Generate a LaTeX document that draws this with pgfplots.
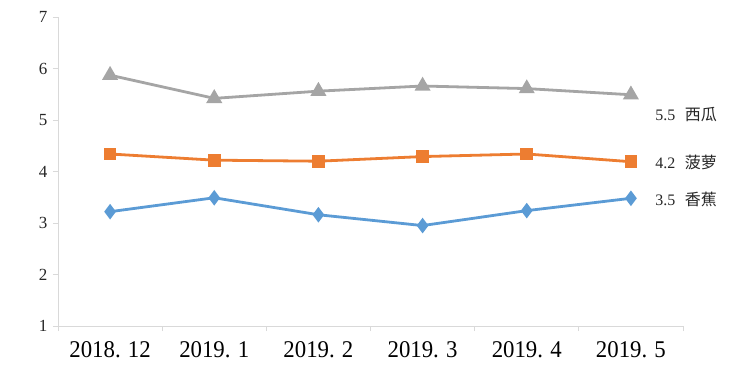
\documentclass[border=0pt]{standalone}
\usepackage{fontspec}
\setmainfont{Liberation Serif}
\newfontfamily\cjk{Noto Sans CJK SC}
\newfontfamily\tickfont[FakeStretch=0.95]{Liberation Serif}
\usepackage{pgfplots}
\pgfplotsset{compat=1.18}
\definecolor{cgray}{HTML}{A5A5A5}
\definecolor{corange}{HTML}{ED7D31}
\definecolor{cblue}{HTML}{5B9BD5}
\definecolor{caxis}{HTML}{D9D9D9}
\newcommand{\dt}{.\hspace{0.3em}}
\begin{document}
\begin{tikzpicture}[x=1pt,y=1pt]
\useasboundingbox (0,0) rectangle (750,378);
\begin{axis}[
  at={(58pt,52pt)}, anchor=south west,
  scale only axis, width=625pt, height=309pt,
  xmin=-0.5, xmax=5.5, ymin=1, ymax=7,
  axis x line*=bottom, axis y line*=left,
  axis line style={caxis, line width=0.8pt},
  xtick={0,1,2,3,4,5},
  xticklabels={2018\dt12,2019\dt1,2019\dt2,2019\dt3,2019\dt4,2019\dt5},
  minor xtick={-0.5,0.5,1.5,2.5,3.5,4.5,5.5},
  major x tick style={draw=none},
  minor x tick style={caxis, line width=0.8pt},
  ytick={1,2,3,4,5,6,7},
  ytick style={caxis, line width=0.8pt},
  tick align=outside,
  major tick length=5pt, minor tick length=5pt,
  /pgf/number format/assume math mode=true,
  yticklabel style={font=\fontsize{17}{17}\selectfont, text=black!85, xshift=-2pt},
  xticklabel style={font=\tickfont\fontsize{24}{24}\selectfont, text=black, yshift=-7pt},
  clip=false,
]
\addplot[cgray, line width=2.8pt, mark=triangle*, mark size=6.5pt, mark options={solid}]
  coordinates {(0,5.87) (1,5.42) (2,5.56) (3,5.66) (4,5.61) (5,5.49)};
\addplot[corange, line width=2.8pt, mark=square*, mark size=5pt]
  coordinates {(0,4.34) (1,4.22) (2,4.20) (3,4.29) (4,4.34) (5,4.19)};
\addplot[cblue, line width=2.8pt, mark=diamond*, mark size=5.5pt]
  coordinates {(0,3.22) (1,3.49) (2,3.16) (3,2.95) (4,3.24) (5,3.48)};
\node[anchor=west, font=\fontsize{16}{16}\selectfont, text=black!85] at (axis cs:5.2,5.10) {5.5\hspace{0.6em}{\cjk 西瓜}};
\node[anchor=west, font=\fontsize{16}{16}\selectfont, text=black!85] at (axis cs:5.2,4.17) {4.2\hspace{0.6em}{\cjk 菠萝}};
\node[anchor=west, font=\fontsize{16}{16}\selectfont, text=black!85] at (axis cs:5.2,3.45) {3.5\hspace{0.6em}{\cjk 香蕉}};
\end{axis}
\end{tikzpicture}
\end{document}
